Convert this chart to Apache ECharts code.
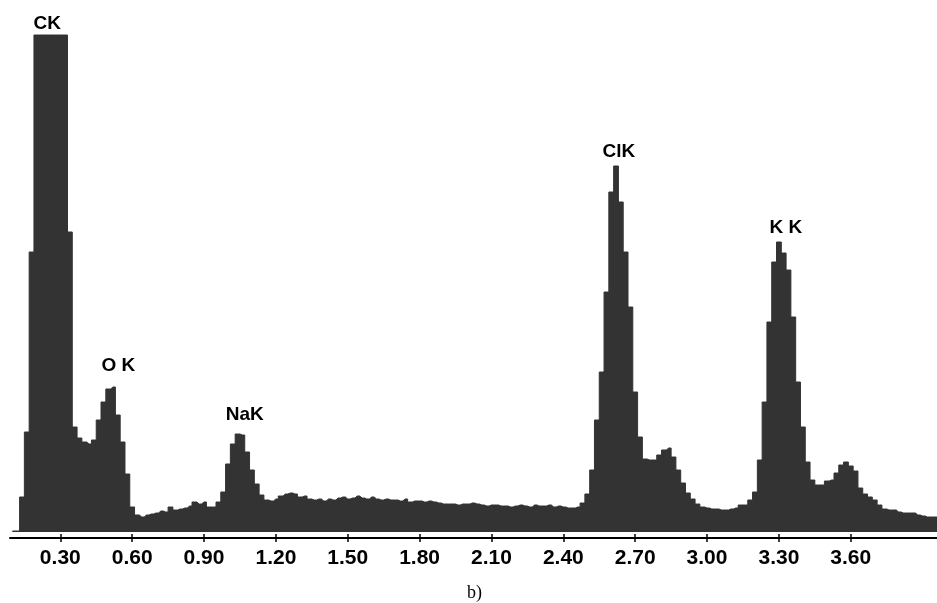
<!DOCTYPE html>
<html>
<head>
<meta charset="utf-8">
<script src="https://cdn.jsdelivr.net/npm/echarts@6/dist/echarts.min.js"></script>
<style>
  html, body { margin: 0; padding: 0; background: #fff; }
  #chart { width: 937px; height: 603px; }
</style>
</head>
<body>
<div id="chart"></div>
<script>
  // EDS spectrum, 20 eV channels starting at 0.10 keV (clipped at top for C K)
  var startEnergy = 0.10;
  var channelWidth = 0.02;
  var counts = [
    1, 1, 35, 100, 280, 497, 497, 497, 497, 497,
    497, 497, 300, 105, 94, 90, 88, 92, 112, 130,
    143, 145, 117, 90, 58, 25, 17, 15, 17, 18,
    19, 21, 20, 25, 22, 23, 24, 26, 30, 28,
    30, 25, 25, 30, 40, 68, 88, 98, 97, 80,
    62, 48, 37, 32, 31, 33, 36, 38, 39, 38,
    35, 36, 33, 32, 33, 31, 33, 32, 34, 35,
    33, 34, 36, 34, 33, 35, 33, 32, 33, 32,
    32, 31, 33, 30, 31, 31, 30, 31, 30, 29,
    28, 28, 28, 27, 28, 28, 29, 28, 27, 26,
    27, 27, 26, 26, 25, 26, 27, 26, 25, 27,
    26, 26, 27, 25, 26, 25, 24, 24, 25, 29,
    38, 62, 112, 160, 240, 340, 366, 330, 280, 225,
    140, 95, 73, 72, 72, 77, 82, 84, 75, 62,
    49, 39, 33, 28, 25, 24, 23, 23, 22, 22,
    23, 24, 27, 27, 32, 40, 72, 130, 210, 270,
    290, 279, 262, 215, 150, 105, 70, 52, 47, 47,
    51, 52, 59, 67, 70, 66, 61, 44, 38, 35,
    32, 27, 23, 22, 22, 20, 19, 19, 19, 17,
    16, 15, 15, 15
  ];
  var tickValues = [0.30, 0.60, 0.90, 1.20, 1.50, 1.80, 2.10, 2.40, 2.70, 3.00, 3.30, 3.60];
  var peakNames = ['CK', 'O K', 'NaK', 'ClK', 'K K'];
  var peakEnergies = [0.245, 0.542, 1.070, 2.632, 3.329];
  var peakLabelHeights = [508, 166, 117, 380, 304];

  var spectrum = counts.map(function (c, i) {
    return [+(startEnergy + i * channelWidth).toFixed(2), c];
  });

  var chart = echarts.init(document.getElementById('chart'));
  chart.setOption({
    animation: false,
    backgroundColor: '#ffffff',
    grid: { left: 10, right: 0, top: 10, bottom: 65 },
    xAxis: [{
      type: 'value',
      min: 0.09,
      max: 3.96,
      splitLine: { show: false },
      axisLine: { onZero: false, lineStyle: { color: '#000', width: 2 } },
      axisTick: { customValues: tickValues, length: 4, lineStyle: { color: '#000', width: 1.5 } },
      axisLabel: {
        customValues: tickValues,
        margin: 10,
        color: '#000',
        fontFamily: 'Liberation Sans',
        fontWeight: 'bold',
        fontSize: 21,
        formatter: function (v) { return v.toFixed(2); }
      }
    }, {
      type: 'value',
      position: 'bottom',
      min: 0.09,
      max: 3.96,
      splitLine: { show: false },
      axisLine: { show: false, onZero: false },
      axisLabel: { show: false },
      axisTick: { inside: true, customValues: tickValues, length: 4, lineStyle: { color: '#000', width: 1.5 } }
    }],
    yAxis: {
      type: 'value',
      min: -6,
      max: 522,
      show: false
    },
    series: [{
      type: 'line',
      step: 'middle',
      data: spectrum,
      showSymbol: false,
      symbol: 'none',
      lineStyle: { color: '#333333', width: 1 },
      areaStyle: { color: '#333333', opacity: 1 },
      markPoint: {
        symbol: 'rect',
        symbolSize: [1, 1],
        itemStyle: { color: 'rgba(0,0,0,0)' },
        label: {
          show: true,
          position: 'inside',
          color: '#000',
          fontFamily: 'Liberation Sans',
          fontWeight: 'bold',
          fontSize: 19,
          formatter: '{b}'
        },
        data: peakNames.map(function (n, i) {
          return { name: n, coord: [peakEnergies[i], peakLabelHeights[i]] };
        })
      }
    }],
    graphic: [{
      type: 'text',
      left: 467,
      top: 584,
      style: { text: 'b)', fill: '#000', font: '18px "Liberation Serif"' }
    }]
  });
</script>
</body>
</html>
